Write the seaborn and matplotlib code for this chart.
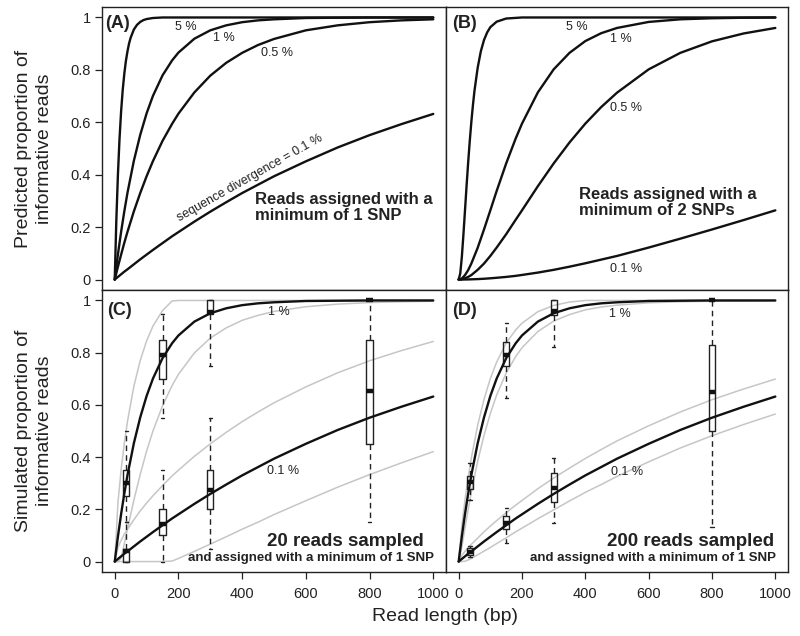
import matplotlib
matplotlib.use('Agg')
import matplotlib.pyplot as plt
import seaborn as sns

read_len = [0, 10, 20, 30, 40, 60, 80, 100, 120, 150, 180, 200, 250, 300, 350, 400, 450, 500, 600, 700, 800, 900, 1000]
# finer spacing for the steep 5 % curves
read_len_steep = [0, 5, 10, 15, 20, 25, 30, 35, 40, 45, 50, 60, 70, 80, 90, 100, 120, 150, 200, 1000]

# (A) predicted proportion, minimum of 1 SNP
a_5 = [0, 0.226, 0.401, 0.537, 0.642, 0.723, 0.785, 0.834, 0.871, 0.901, 0.923, 0.954, 0.972, 0.983, 0.990, 0.994, 0.998, 1.0, 1.0, 1.0]
a_1 = [0, 0.096, 0.182, 0.260, 0.331, 0.453, 0.552, 0.634, 0.701, 0.779, 0.836, 0.866, 0.919, 0.951, 0.970, 0.982, 0.989, 0.993, 0.998, 0.999, 1.0, 1.0, 1.0]
a_05 = [0, 0.049, 0.095, 0.140, 0.182, 0.260, 0.330, 0.394, 0.452, 0.529, 0.594, 0.633, 0.714, 0.778, 0.827, 0.865, 0.895, 0.918, 0.951, 0.970, 0.982, 0.989, 0.993]
a_01 = [0, 0.010, 0.020, 0.030, 0.039, 0.058, 0.077, 0.095, 0.113, 0.139, 0.165, 0.181, 0.221, 0.259, 0.295, 0.330, 0.362, 0.394, 0.451, 0.504, 0.551, 0.593, 0.632]

# (B) predicted proportion, minimum of 2 SNPs
b_5 = [0, 0.023, 0.086, 0.171, 0.264, 0.358, 0.447, 0.528, 0.601, 0.665, 0.721, 0.808, 0.871, 0.914, 0.943, 0.963, 0.984, 0.996, 1.0, 1.0]
b_1 = [0, 0.004, 0.017, 0.036, 0.061, 0.121, 0.191, 0.264, 0.338, 0.443, 0.538, 0.595, 0.714, 0.802, 0.865, 0.910, 0.940, 0.960, 0.983, 0.993, 0.997, 0.999, 1.0]
b_05 = [0, 0.001, 0.005, 0.010, 0.017, 0.037, 0.061, 0.090, 0.122, 0.173, 0.228, 0.264, 0.356, 0.443, 0.523, 0.595, 0.658, 0.713, 0.802, 0.865, 0.909, 0.939, 0.960]
b_01 = [0, 0.0, 0.0002, 0.0004, 0.0008, 0.0017, 0.003, 0.0047, 0.0067, 0.010, 0.014, 0.0175, 0.0265, 0.037, 0.049, 0.062, 0.076, 0.090, 0.122, 0.156, 0.191, 0.227, 0.264]

# (C) grey envelopes for 20 reads
c_1_hi = [0, 0.225, 0.351, 0.452, 0.537, 0.671, 0.770, 0.845, 0.902, 0.961, 0.998, 1.0, 1.0, 1.0, 1.0, 1.0, 1.0, 1.0, 1.0, 1.0, 1.0, 1.0, 1.0]
c_1_lo = [0, 0.0, 0.013, 0.068, 0.125, 0.235, 0.334, 0.423, 0.500, 0.597, 0.674, 0.717, 0.799, 0.856, 0.895, 0.924, 0.943, 0.958, 0.976, 0.986, 0.992, 0.995, 0.997]
c_01_hi = [0, 0.054, 0.081, 0.105, 0.124, 0.160, 0.194, 0.224, 0.252, 0.291, 0.328, 0.350, 0.403, 0.451, 0.495, 0.536, 0.573, 0.608, 0.669, 0.723, 0.769, 0.808, 0.843]
c_01_lo = [0, 0, 0, 0, 0, 0, 0, 0, 0, 0, 0.002, 0.012, 0.039, 0.067, 0.095, 0.124, 0.151, 0.180, 0.233, 0.285, 0.333, 0.378, 0.421]

# (D) grey envelopes for 200 reads
d_1_hi = [0, 0.137, 0.236, 0.321, 0.396, 0.522, 0.621, 0.701, 0.764, 0.837, 0.887, 0.913, 0.957, 0.981, 0.994, 1.0, 1.0, 1.0, 1.0, 1.0, 1.0, 1.0, 1.0]
d_1_lo = [0, 0.055, 0.129, 0.199, 0.266, 0.384, 0.483, 0.567, 0.638, 0.722, 0.785, 0.819, 0.881, 0.921, 0.946, 0.964, 0.975, 0.982, 0.991, 0.995, 0.997, 0.998, 0.999]
d_01_hi = [0, 0.024, 0.039, 0.054, 0.066, 0.090, 0.114, 0.136, 0.157, 0.187, 0.216, 0.234, 0.279, 0.320, 0.358, 0.395, 0.429, 0.462, 0.520, 0.573, 0.620, 0.661, 0.699]
d_01_lo = [0, 0, 0.001, 0.006, 0.012, 0.026, 0.040, 0.054, 0.069, 0.091, 0.114, 0.128, 0.164, 0.198, 0.232, 0.265, 0.295, 0.326, 0.382, 0.435, 0.482, 0.525, 0.565]

# simulated boxplots: (whislo, q1, med, q3, whishi) at each read length
box_pos = [36, 150, 300, 800]
c_box_1 = [(0.15, 0.25, 0.30, 0.35, 0.50), (0.55, 0.70, 0.79, 0.85, 0.95),
           (0.75, 0.95, 0.955, 1.0, 1.0), (1.0, 1.0, 1.0, 1.0, 1.0)]
c_box_01 = [(0.0, 0.0, 0.04, 0.05, 0.15), (0.0, 0.10, 0.145, 0.20, 0.35),
            (0.05, 0.20, 0.275, 0.35, 0.55), (0.15, 0.45, 0.655, 0.85, 1.0)]
d_box_1 = [(0.237, 0.277, 0.306, 0.328, 0.377), (0.628, 0.748, 0.793, 0.841, 0.915),
           (0.82, 0.943, 0.958, 1.0, 1.0), (1.0, 1.0, 1.0, 1.0, 1.0)]
d_box_01 = [(0.018, 0.027, 0.035, 0.052, 0.061), (0.071, 0.125, 0.148, 0.173, 0.205),
            (0.148, 0.228, 0.281, 0.341, 0.396), (0.132, 0.501, 0.648, 0.828, 1.0)]

yticks = [0, 0.2, 0.4, 0.6, 0.8, 1.0]
ytick_labels = ['0', '0.2', '0.4', '0.6', '0.8', '1']
xticks = [0, 200, 400, 600, 800, 1000]

sns.set_style('ticks')
plt.rcParams['font.family'] = ['Liberation Sans', 'DejaVu Sans']
ink = '#222222'
grey = '#c6c6c6'

fig = plt.figure(figsize=(8, 6.36), dpi=100)
ax_a = fig.add_axes([0.1275, 0.544, 0.43, 0.445])
ax_b = fig.add_axes([0.5575, 0.544, 0.4275, 0.445])
ax_c = fig.add_axes([0.1275, 0.1006, 0.43, 0.4434])
ax_d = fig.add_axes([0.5575, 0.1006, 0.4275, 0.4434])


def black(ax, y, x=read_len):
    sns.lineplot(x=x, y=y, ax=ax, color='#111111', linewidth=1.7, legend=False, zorder=3)


def light(ax, y):
    sns.lineplot(x=read_len, y=y, ax=ax, color=grey, linewidth=1.1, legend=False, zorder=2)


def boxes(ax, rows):
    stats = [dict(whislo=r[0], q1=r[1], med=r[2], q3=r[3], whishi=r[4]) for r in rows]
    ax.bxp(stats, positions=box_pos, widths=20, capwidths=10, showfliers=False,
           manage_ticks=False,
           boxprops=dict(color=ink, linewidth=1),
           whiskerprops=dict(color=ink, linewidth=1, linestyle=(0, (4, 3))),
           capprops=dict(color=ink, linewidth=1),
           medianprops=dict(color='#111111', linewidth=3.2))


for ax in [ax_a, ax_b, ax_c, ax_d]:
    ax.set_xlim(-40, 1040)
    ax.set_ylim(-0.04, 1.04)
    for s in ax.spines.values():
        s.set_visible(True)
        s.set_color(ink)
        s.set_linewidth(1.0)
    ax.tick_params(direction='out', length=5, width=0.9, colors=ink, labelsize=10.5)
    ax.set_xlabel('')
    ax.set_ylabel('')

# panel A
black(ax_a, a_5, read_len_steep)
for y in [a_1, a_05, a_01]:
    black(ax_a, y)
for x, y, t in [(222, 0.965, '5 %'), (342, 0.923, '1 %'), (508, 0.866, '0.5 %')]:
    ax_a.text(x, y, t, ha='center', va='center', fontsize=9, color=ink)
ax_a.text(426, 0.387, 'sequence divergence = 0.1 %', rotation=29.5, rotation_mode='anchor',
          ha='center', va='center', fontsize=9, color=ink)
ax_a.text(439, 0.275, 'Reads assigned with a\nminimum of 1 SNP', ha='left', va='center',
          fontsize=12, fontweight='bold', color=ink, linespacing=1.1)

# panel B
black(ax_b, b_5, read_len_steep)
for y in [b_1, b_05, b_01]:
    black(ax_b, y)
for x, y, t in [(374, 0.965, '5 %'), (512, 0.916, '1 %'), (528, 0.655, '0.5 %'), (528, 0.042, '0.1 %')]:
    ax_b.text(x, y, t, ha='center', va='center', fontsize=9, color=ink)
ax_b.text(380, 0.293, 'Reads assigned with a\nminimum of 2 SNPs', ha='left', va='center',
          fontsize=12, fontweight='bold', color=ink, linespacing=1.1)

# panel C
for y in [c_1_hi, c_1_lo, c_01_hi, c_01_lo]:
    light(ax_c, y)
black(ax_c, a_1)
black(ax_c, a_01)
boxes(ax_c, c_box_1)
boxes(ax_c, c_box_01)
ax_c.text(514, 0.954, '1 %', ha='center', va='center', fontsize=9, color=ink)
ax_c.text(530, 0.347, '0.1 %', ha='center', va='center', fontsize=9, color=ink)
ax_c.text(969, 0.076, '20 reads sampled', ha='right', va='center', fontsize=13.5,
          fontweight='bold', color=ink)
ax_c.text(1003, 0.015, 'and assigned with a minimum of 1 SNP', ha='right', va='center',
          fontsize=9.5, fontweight='bold', color=ink)

# panel D
for y in [d_1_hi, d_1_lo, d_01_hi, d_01_lo]:
    light(ax_d, y)
black(ax_d, a_1)
black(ax_d, a_01)
boxes(ax_d, d_box_1)
boxes(ax_d, d_box_01)
ax_d.text(509, 0.95, '1 %', ha='center', va='center', fontsize=9, color=ink)
ax_d.text(531, 0.343, '0.1 %', ha='center', va='center', fontsize=9, color=ink)
ax_d.text(997, 0.076, '200 reads sampled', ha='right', va='center', fontsize=13.5,
          fontweight='bold', color=ink)
ax_d.text(1003, 0.015, 'and assigned with a minimum of 1 SNP', ha='right', va='center',
          fontsize=9.5, fontweight='bold', color=ink)

# panel letters
for ax, lab, xf, yf in [(ax_a, '(A)', 0.009, 0.94), (ax_b, '(B)', 0.018, 0.943),
                        (ax_c, '(C)', 0.015, 0.929), (ax_d, '(D)', 0.018, 0.929)]:
    ax.text(xf, yf, lab, transform=ax.transAxes, ha='left', va='center',
            fontsize=13, fontweight='bold', color=ink)

# ticks
for ax in [ax_a, ax_c]:
    ax.set_yticks(yticks)
    ax.set_yticklabels(ytick_labels)
    ax.tick_params(axis='y', pad=3)
for ax in [ax_b, ax_d]:
    ax.set_yticks([])
for ax in [ax_a, ax_b]:
    ax.set_xticks([])
for ax in [ax_c, ax_d]:
    ax.set_xticks(xticks)
    ax.set_xticklabels([str(v) for v in xticks])
    ax.tick_params(axis='x', pad=6)

ax_a.set_ylabel('Predicted proportion of\ninformative reads', fontsize=14, color=ink, linespacing=1.35)
ax_c.set_ylabel('Simulated proportion of\ninformative reads', fontsize=14, color=ink, linespacing=1.35)
ax_a.yaxis.set_label_coords(-0.142, 0.5)
ax_c.yaxis.set_label_coords(-0.142, 0.5)
fig.text(0.556, 0.030, 'Read length (bp)', ha='center', va='center', fontsize=14, color=ink)

fig.savefig('out.png', dpi=100, facecolor='white')
